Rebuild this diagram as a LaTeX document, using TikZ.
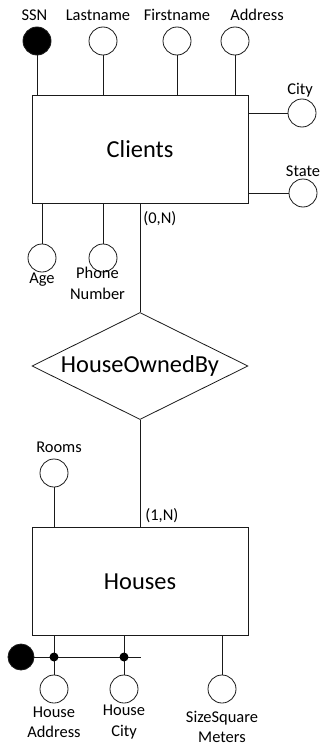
\documentclass[tikz,border=0pt]{standalone}
\usepackage{fontspec}
\setmainfont{Carlito}
\usepackage{tikz}
\usetikzlibrary{shapes.geometric}
\definecolor{erline}{HTML}{1A1A1A}
\tikzset{
  entity/.style ={draw=erline,line width=0.8bp,minimum width=216bp,minimum height=108bp,
                  inner sep=0pt,font=\fontsize{24.5}{28}\selectfont},
  rel/.style    ={diamond,draw=erline,line width=0.8bp,aspect=2,minimum width=216bp,
                  minimum height=107bp,inner sep=0pt,font=\fontsize{24.5}{28}\selectfont},
  attr/.style   ={circle,draw=erline,line width=0.8bp,minimum size=28bp,inner sep=0pt},
  keyattr/.style={attr,fill=black},
  dot/.style    ={circle,fill=black,minimum size=9bp,inner sep=0pt},
  lbl/.style    ={font=\fontsize{16.5}{20.5}\selectfont,inner sep=0pt,align=center},
  link/.style   ={line width=0.8bp,draw=erline}
}

\begin{document}
\begin{tikzpicture}[x=1bp,y=-1bp]
        \useasboundingbox (0,0) rectangle (323,746);
        \node[entity] (clients) at (140,149.5) {Clients};
        \node[rel] (owns) at (140,366) {HouseOwnedBy};
        \node[entity] (houses) at (140,581.5) {Houses};
        % client attributes
        \node[keyattr] (ssn) at (37,41) {};
        \node[attr] (last) at (103,41) {};
        \node[attr] (first) at (177,41) {};
        \node[attr] (addr) at (235,41) {};
        \node[attr] (city) at (302,113) {};
        \node[attr] (state) at (303,193) {};
        \node[attr] (age) at (42,258) {};
        \node[attr] (phone) at (103,258) {};
        \node[lbl] (lssn) at (34.5,15) {SSN};
        \node[lbl] (llast) at (98,15) {Lastname};
        \node[lbl] (lfirst) at (177,15) {Firstname};
        \node[lbl] (laddr) at (257,15) {Address};
        \node[lbl] (lcity) at (300,90) {City};
        \node[lbl] (lstate) at (303,171) {State};
        \node[lbl] (lage) at (42,280) {Age};
        \node[lbl] (lphone) at (97.5,283.5) {Phone\\Number};
        \draw[link] (ssn) -- (ssn |- clients.north);
        \draw[link] (last) -- (last |- clients.north);
        \draw[link] (first) -- (first |- clients.north);
        \draw[link] (addr) -- (addr |- clients.north);
        \draw[link] (city) -- (city -| clients.east);
        \draw[link] (state) -- (state -| clients.east);
        \draw[link] (age) -- (age |- clients.south);
        \draw[link] (phone) -- (phone |- clients.south);
        % relationship
        \draw[link] (clients) -- node[lbl,pos=0,anchor=north west,xshift=3bp,yshift=-7bp]{(0,N)} (owns);
        \draw[link] (owns) -- node[lbl,pos=1,anchor=south west,xshift=5bp,yshift=4bp]{(1,N)} (houses);
        % house attributes
        \node[attr] (rooms) at (54,473) {};
        \node[attr] (haddr) at (54,689) {};
        \node[attr] (hcity) at (124,689) {};
        \node[attr] (hsize) at (222,689) {};
        \node[keyattr,minimum size=26bp] (hkey) at (21,657) {};
        \coordinate (keyend) at (141,657);
        \node[lbl] (lrooms) at (59,447) {Rooms};
        \node[lbl] (lhaddr) at (54,722) {House\\Address};
        \node[lbl] (lhcity) at (124,722) {House\\City};
        \node[lbl] (lhsize) at (222,727) {SizeSquare\\Meters};
        \draw[link] (rooms) -- (rooms |- houses.north);
        \draw[link] (haddr) -- (haddr |- houses.south);
        \draw[link] (hcity) -- (hcity |- houses.south);
        \draw[link] (hsize) -- (hsize |- houses.south);
        \draw[link] (hkey) -- (keyend);
        \node[dot] (d1) at (haddr |- hkey) {};
        \node[dot] (d2) at (hcity |- hkey) {};
      \end{tikzpicture}
\end{document}
